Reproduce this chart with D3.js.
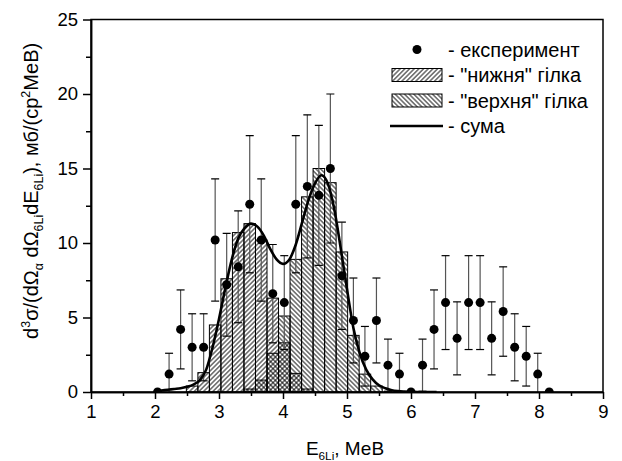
<!DOCTYPE html>
<html>
<head>
<meta charset="utf-8">
<script src="https://cdn.jsdelivr.net/npm/d3@7/dist/d3.min.js"></script>
<style>
	body { margin: 0; background: #fff; }
	svg text { font-family: Arial, "Liberation Sans", sans-serif; fill: #000; }
</style>
</head>
<body>
<script>
// experiment points (E_6Li, MeV)
let energies = [2.04, 2.22, 2.40, 2.58, 2.76, 2.94, 3.12, 3.30, 3.48, 3.66, 3.84, 4.02, 4.20, 4.38, 4.56, 4.74, 4.92, 5.10,
	5.28, 5.46, 5.64, 5.82, 6.00, 6.18, 6.36, 6.54, 6.72, 6.90, 7.08, 7.26, 7.44, 7.62, 7.80, 7.98, 8.16];
let crossSection = [0, 1.2, 4.2, 3.0, 3.0, 10.2, 7.2, 8.4, 12.6, 10.2, 6.6, 6.0, 12.6, 13.8, 13.2, 15.0, 7.8, 4.8,
	2.4, 4.8, 1.8, 1.2, 0, 1.8, 4.2, 6.0, 3.6, 6.0, 6.0, 3.6, 5.4, 3.0, 2.4, 1.2, 0];
let errors = [0, 1.4, 2.65, 2.25, 2.25, 4.1, 3.45, 3.75, 4.6, 4.1, 3.3, 3.15, 4.6, 4.8, 4.7, 5.0, 3.6, 2.85,
	2.0, 2.85, 1.75, 1.4, 0, 1.75, 2.65, 3.15, 2.45, 3.15, 3.15, 2.45, 3.0, 2.25, 2.0, 1.4, 0];

// histograms, same bins as the points
let lowerBranch = [0, 0, 0, 0.4, 1.3, 4.5, 7.6, 10.7, 11.3, 10.2, 6.3, 3.3, 1.25, 0.2, 0, 0, 0, 0,
	0, 0, 0, 0, 0, 0, 0, 0, 0, 0, 0, 0, 0, 0, 0, 0, 0];
let upperBranch = [0, 0, 0, 0, 0, 0, 0, 0, 0.2, 0.8, 2.6, 5.1, 8.9, 13.1, 15.0, 14.05, 9.4, 3.8,
	1.2, 0.4, 0, 0, 0, 0, 0, 0, 0, 0, 0, 0, 0, 0, 0, 0, 0];

// sum curve
let sumE = [2.0, 2.1, 2.2, 2.3, 2.4, 2.5, 2.6, 2.7, 2.8, 2.9, 3.0, 3.1, 3.2, 3.3, 3.4, 3.5, 3.6, 3.7, 3.8, 3.9,
	4.0, 4.1, 4.2, 4.3, 4.4, 4.5, 4.6, 4.7, 4.8, 4.9, 5.0, 5.1, 5.2, 5.3, 5.4, 5.5, 5.6, 5.7, 5.8, 5.9,
	6.0, 6.1, 6.2, 6.3, 6.4];
let sumY = [0.05, 0.1, 0.15, 0.2, 0.25, 0.35, 0.5, 0.8, 1.5, 3.0, 4.9, 7.0, 8.9, 10.3, 11.0, 11.3, 11.1, 10.5, 9.6, 8.9,
	8.6, 8.9, 9.9, 11.4, 12.9, 14.0, 14.55, 14.0, 12.3, 9.7, 6.9, 4.3, 2.6, 1.5, 0.85, 0.45, 0.25, 0.12, 0.06, 0.03,
	0.01, 0, 0, 0, 0];

let xTicks = [1, 2, 3, 4, 5, 6, 7, 8, 9];
let xMinor = [1.5, 2.5, 3.5, 4.5, 5.5, 6.5, 7.5, 8.5];
let yTicks = [0, 5, 10, 15, 20, 25];
let yMinor = [2.5, 7.5, 12.5, 17.5, 22.5];

let legendItems = ["- експеримент", "- \"нижня\" гілка", "- \"верхня\" гілка", "- сума"];

let width = 622;
let height = 461;
let margin = {top: 19.5, right: 19, bottom: 69, left: 91};
let binHalf = 0.09;

let x = d3.scaleLinear()
	.domain([1, 9])
	.range([margin.left, width - margin.right]);

let y = d3.scaleLinear()
	.domain([0, 25])
	.range([height - margin.bottom, margin.top]);

let svg = d3.select("body").append("svg")
	.attr("width", width)
	.attr("height", height);

let defs = svg.append("defs");

let hatch = (id, angle) => {
	let p = defs.append("pattern")
		.attr("id", id)
		.attr("patternUnits", "userSpaceOnUse")
		.attr("width", 3.3)
		.attr("height", 3.3)
		.attr("patternTransform", `rotate(${angle})`);
	p.append("line")
		.attr("x1", 1.65).attr("y1", -1)
		.attr("x2", 1.65).attr("y2", 4.3)
		.attr("stroke", "#000")
		.attr("stroke-width", 0.9);
}
hatch("lowerHatch", 45);
hatch("upperHatch", -45);

defs.append("clipPath")
	.attr("id", "plotClip")
	.append("rect")
	.attr("x", margin.left)
	.attr("y", margin.top)
	.attr("width", width - margin.left - margin.right)
	.attr("height", height - margin.top - margin.bottom);

let plot = svg.append("g").attr("clip-path", "url(#plotClip)");

let drawBars = (values, fill) => {
	plot.append("g")
		.selectAll("rect")
		.data(energies.map((e, i) => ({e: e, v: values[i]})).filter(d => d.v > 0))
		.enter().append("rect")
		.attr("x", d => x(d.e - binHalf))
		.attr("width", d => x(d.e + binHalf) - x(d.e - binHalf))
		.attr("y", d => y(d.v))
		.attr("height", d => y(0) - y(d.v))
		.attr("fill", fill)
		.attr("stroke", "#000")
		.attr("stroke-width", 1);
}
drawBars(lowerBranch, "url(#lowerHatch)");
drawBars(upperBranch, "url(#upperHatch)");

let points = energies.map((e, i) => ({e: e, v: crossSection[i], err: errors[i]}));

let errBars = plot.append("g")
	.selectAll("g")
	.data(points.filter(d => d.err > 0))
	.enter().append("g");

errBars.append("line")
	.attr("x1", d => x(d.e)).attr("x2", d => x(d.e))
	.attr("y1", d => y(d.v - d.err)).attr("y2", d => y(d.v + d.err))
	.attr("stroke", "#555")
	.attr("stroke-width", 1.2);

errBars.selectAll(".cap")
	.data(d => [d.v - d.err, d.v + d.err].map(v => ({e: d.e, v: v})))
	.enter().append("line")
	.attr("class", "cap")
	.attr("x1", d => x(d.e) - 4).attr("x2", d => x(d.e) + 4)
	.attr("y1", d => y(d.v)).attr("y2", d => y(d.v))
	.attr("stroke", "#000")
	.attr("stroke-width", 1.2);

let line = d3.line()
	.x(d => x(d[0]))
	.y(d => y(d[1]))
	.curve(d3.curveMonotoneX);

plot.append("path")
	.datum(sumE.map((e, i) => [e, sumY[i]]))
	.attr("d", line)
	.attr("fill", "none")
	.attr("stroke", "#000")
	.attr("stroke-width", 2.6);

plot.append("g")
	.selectAll("circle")
	.data(points)
	.enter().append("circle")
	.attr("cx", d => x(d.e))
	.attr("cy", d => y(d.v))
	.attr("r", 4.5)
	.attr("fill", "#000");

// frame
svg.append("rect")
	.attr("x", margin.left)
	.attr("y", margin.top)
	.attr("width", width - margin.left - margin.right)
	.attr("height", height - margin.top - margin.bottom)
	.attr("fill", "none")
	.attr("stroke", "#000")
	.attr("stroke-width", 1.5);

// axes
svg.append("g")
	.attr("transform", `translate(0,${y(0)})`)
	.call(d3.axisBottom(x).tickValues(xTicks).tickSize(7).tickSizeOuter(0).tickPadding(6).tickFormat(d3.format("d")));
svg.append("g")
	.attr("transform", `translate(0,${y(0)})`)
	.call(d3.axisBottom(x).tickValues(xMinor).tickSize(4).tickSizeOuter(0).tickFormat(""));

svg.append("g")
	.attr("transform", `translate(${x(1)},0)`)
	.call(d3.axisLeft(y).tickValues(yTicks).tickSize(8).tickSizeOuter(0).tickPadding(5).tickFormat(d3.format("d")));
svg.append("g")
	.attr("transform", `translate(${x(1)},0)`)
	.call(d3.axisLeft(y).tickValues(yMinor).tickSize(5).tickSizeOuter(0).tickFormat(""));

svg.selectAll(".domain").attr("stroke", "#000").attr("stroke-width", 1.5);
svg.selectAll(".tick line").attr("stroke", "#000").attr("stroke-width", 1.5);
svg.selectAll(".tick text")
	.style("font-size", "18.5px")
	.style("font-family", "Arial, 'Liberation Sans', sans-serif");

// text with sub/superscripts
let richText = (sel, parts, size) => {
	let shift = 0;
	parts.forEach(([t, kind]) => {
		let target = kind == "sub" ? 5 : kind == "sup" ? -8 : 0;
		sel.append("tspan")
			.attr("dy", target - shift)
			.style("font-size", kind == "n" ? size + "px" : (size * 0.62) + "px")
			.text(t);
		shift = target;
	});
}

let xTitle = svg.append("text")
	.attr("x", x(5) - 2)
	.attr("y", 455)
	.attr("text-anchor", "middle");
richText(xTitle, [["E", "n"], ["6Li", "sub"], [", МеВ", "n"]], 19);

let yTitle = svg.append("text")
	.attr("transform", `translate(38,${y(13.5)}) rotate(-90)`)
	.attr("text-anchor", "middle");
richText(yTitle, [["d", "n"], ["3", "sup"], ["σ/(dΩ", "n"], ["α", "sub"], [" dΩ", "n"], ["6Li", "sub"],
	["dE", "n"], ["6Li", "sub"], ["), мб/(ср", "n"], ["2", "sup"], ["МеВ)", "n"]], 20);

// legend
let legend = svg.append("g");
let rowY = [49.5, 75, 100.5, 126];

legend.append("circle")
	.attr("cx", 417).attr("cy", rowY[0]).attr("r", 4.5).attr("fill", "#000");
legend.append("rect")
	.attr("x", 392).attr("y", rowY[1] - 6.5).attr("width", 50).attr("height", 13)
	.attr("fill", "url(#lowerHatch)").attr("stroke", "#000").attr("stroke-width", 1);
legend.append("rect")
	.attr("x", 392).attr("y", rowY[2] - 6.5).attr("width", 50).attr("height", 13)
	.attr("fill", "url(#upperHatch)").attr("stroke", "#000").attr("stroke-width", 1);
legend.append("line")
	.attr("x1", 390).attr("x2", 443).attr("y1", rowY[3]).attr("y2", rowY[3])
	.attr("stroke", "#000").attr("stroke-width", 2.6);

legend.selectAll(".label")
	.data(legendItems)
	.enter().append("text")
	.attr("class", "label")
	.attr("x", 448)
	.attr("y", (d, i) => rowY[i] + 7)
	.style("font-size", "20px")
	.text(d => d);
</script>
</body>
</html>
